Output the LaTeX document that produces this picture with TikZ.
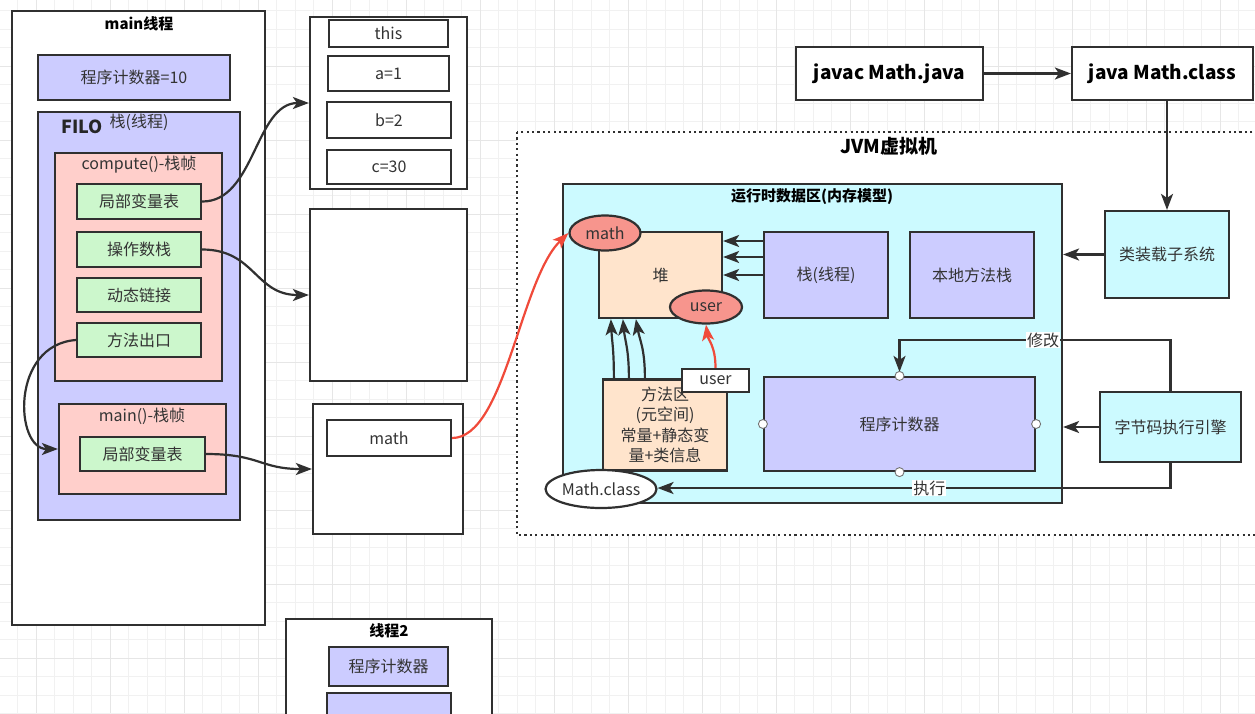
\documentclass[tikz,border=0pt]{standalone}
\usepackage{fontspec}
\setmainfont{Noto Sans CJK SC}
\usetikzlibrary{arrows.meta,shapes.geometric}
\definecolor{edge}{HTML}{303030}
\definecolor{txt}{HTML}{333333}
\definecolor{lav}{HTML}{CCCCFF}
\definecolor{pinkf}{HTML}{FFCFCB}
\definecolor{greenf}{HTML}{CCF7CC}
\definecolor{cyanf}{HTML}{CCFAFF}
\definecolor{peach}{HTML}{FFE4CC}
\definecolor{salmon}{HTML}{F7958D}
\definecolor{redline}{HTML}{F04A3A}
\definecolor{gminor}{HTML}{F1F1F1}
\definecolor{gmajor}{HTML}{E6E6E6}
\begin{document}
\begin{tikzpicture}[x=1pt,y=-1pt,
  box/.style={draw=edge, line width=2.2pt, inner sep=0pt, text=txt, font=\fontsize{16}{20}\selectfont},
  sz/.style 2 args={minimum width=#1pt, minimum height=#2pt},
  ell/.style={ellipse, draw=edge, line width=2.2pt, inner sep=0pt, text=txt, font=\fontsize{16}{20}\selectfont},
  ttl/.style={inner sep=0pt, text=black, font=\bfseries\fontsize{15}{18}\selectfont},
  plain/.style={inner sep=0pt, text=txt, font=\fontsize{16}{20}\selectfont},
  arr/.style={draw=edge, line width=2.2pt, -{Stealth[length=16pt,width=12pt,inset=4pt]}},
  redarr/.style={draw=redline, line width=2.2pt, -{Stealth[length=16pt,width=12pt,inset=4pt]}},
  lab/.style={fill=white, inner sep=1pt, text=txt, font=\fontsize{16}{20}\selectfont},
  dot/.style={circle, draw=black!55, fill=white, line width=0.9pt, minimum size=9pt, inner sep=0pt}
]
\useasboundingbox (0,0) rectangle (1255,713);
\clip (0,0) rectangle (1255,713);
\fill[white] (0,0) rectangle (1255,713);
% grid
\foreach \i in {0,...,68} {
  \draw[gminor, line width=0.8pt] ({-1+18.5*\i},0) -- ({-1+18.5*\i},713);
  \draw[gminor, line width=0.8pt] (0,{-8+18.5*\i}) -- (1255,{-8+18.5*\i});
}
\foreach \i in {0,...,17} {
  \draw[gmajor, line width=0.9pt] ({-38+74*\i},0) -- ({-38+74*\i},713);
  \draw[gmajor, line width=0.9pt] (0,{-8+74*\i}) -- (1255,{-8+74*\i});
}

% ---------- main thread ----------
\node[box, fill=white, sz={253}{614}] (mainth) at (138.5,318) {};
\node[ttl] (mainT) at (139,24) {main线程};
\node[box, fill=lav, sz={192}{45}] (pc10) at (134,77.5) {程序计数器=10};
\node[box, fill=lav, sz={202}{408}] (filo) at (139,316) {};
\node[inner sep=0pt, text=black!85, font=\bfseries\fontsize{18}{20}\selectfont] (filoT) at (82,127) {FILO};
\node[plain] (stackT) at (139,122) {栈(线程)};
\node[box, fill=pinkf, sz={167}{228}] (compf) at (138.5,267) {};
\node[plain] (compT) at (139,165) {compute()-栈帧};
\node[box, fill=greenf, sz={124}{35}] (lv1) at (139,201.5) {局部变量表};
\node[box, fill=greenf, sz={124}{35}] (op) at (139,249.5) {操作数栈};
\node[box, fill=greenf, sz={124}{34}] (dl) at (139,295) {动态链接};
\node[box, fill=greenf, sz={124}{34}] (mo) at (139,340) {方法出口};
\node[box, fill=pinkf, sz={167}{90}] (mainf) at (142.5,449) {};
\node[plain] (mainfT) at (142,416) {main()-栈帧};
\node[box, fill=greenf, sz={125}{34}] (lv2) at (142.5,454) {局部变量表};

% ---------- right column ----------
\node[box, fill=white, sz={157}{172}] (boxA) at (388.5,103) {};
\node[box, fill=white, sz={119}{27}] (vthis) at (388.5,33.5) {this};
\node[box, fill=white, sz={121}{35}] (va) at (388.5,73.5) {a=1};
\node[box, fill=white, sz={124}{36}] (vb) at (389,120) {b=2};
\node[box, fill=white, sz={124}{34}] (vc) at (389,167) {c=30};
\node[box, fill=white, sz={157}{172}] (boxB) at (388.5,295) {};
\node[box, fill=white, sz={150}{130}] (boxC) at (388,469) {};
\node[box, fill=white, sz={124}{36}] (vmath) at (389,438) {math};
\node[box, fill=white, sz={206}{121}] (th2) at (389,679.5) {};
\node[ttl] (th2T) at (389,631) {线程2};
\node[box, fill=lav, sz={119}{39}] (pc2) at (388.5,666.5) {程序计数器};
\node[box, fill=lav, sz={124}{50}] (t2box) at (389,718) {};

% ---------- top-right ----------
\node[box, fill=white, text=black, font=\bfseries\fontsize{19}{22}\selectfont, sz={187}{53}] (javac) at (889.5,73.5) {javac Math.java};
\node[box, fill=white, text=black, font=\bfseries\fontsize{19}{22}\selectfont, sz={181}{53}] (javam) at (1162.5,73.5) {java Math.class};

% ---------- JVM ----------
\draw[fill=white, draw=edge, line width=2.2pt, dash pattern=on 2.2pt off 3.2pt] (517,132) rectangle (1262,535);
\node[inner sep=0pt, text=black, font=\bfseries\fontsize{19}{22}\selectfont] (jvmT) at (889,146) {JVM虚拟机};
\node[box, fill=cyanf, sz={499}{319}] (rt) at (812.5,343.5) {};
\node[ttl] (rtT) at (812,197) {运行时数据区(内存模型)};
\node[box, fill=peach, sz={123}{86}] (heap) at (660.5,275) {堆};
\node[box, fill=lav, sz={124}{86}] (jstack) at (826,275) {栈(线程)};
\node[box, fill=lav, sz={124}{86}] (native) at (972,275) {本地方法栈};
\node[box, fill=lav, sz={271}{94}] (pc) at (899.5,424) {程序计数器};
\node[box, fill=cyanf, sz={124}{87}] (loader) at (1167,254.5) {类装载子系统};
\node[box, fill=cyanf, sz={141}{70}] (engine) at (1170.5,427) {字节码执行引擎};
\node[box, fill=peach, sz={124}{91}, align=center, font=\fontsize{16}{20.5}\selectfont] (ma) at (665,425) {方法区\\(元空间)\\常量+静态变\\量+类信息};
\node[box, fill=white, sz={67}{23}] (ubox) at (715.5,380.5) {user};
\node[ell, fill=salmon, sz={71}{35}] (mathE) at (605,233) {math};
\node[ell, fill=salmon, sz={72}{33}] (userE) at (706,307) {user};
\node[ell, fill=white, sz={108}{38}] (mclass) at (601,489) {Math.class};

% ---------- connectors ----------
\draw[arr] (lv1.east) .. controls (255,202) and (255,103) .. (boxA.west);
\draw[arr] (op.east) .. controls (255,249.5) and (255,295) .. (boxB.west);
\draw[arr] (mo.west) .. controls (10,345) and (15,449) .. (mainf.west);
\draw[arr] (lv2.east) .. controls (260,454) and (260,469) .. (boxC.west);
\draw[redarr] (vmath.east) .. controls (505,438) and (520,280) .. (mathE.west);

\draw[arr] (javac.east) -- (javam.west);
\draw[arr] (loader.north |- javam.south) -- (loader.north);
\draw[arr] (loader.west) -- (rt.east |- loader.west);
\draw[arr] (engine.west) -- (rt.east |- engine.west);

\draw[arr] (jstack.west |- 0,241) -- (heap.east |- 0,241);
\draw[arr] (jstack.west |- 0,257) -- (heap.east |- 0,257);
\draw[arr] (jstack.west |- 0,275) -- (heap.east |- 0,275);

\draw[arr] ([xshift=12pt]ma.north west) .. controls +(0,-30) and +(1,22) .. ([xshift=13pt]heap.south west);
\draw[arr] ([xshift=27pt]ma.north west) .. controls +(0,-30) and +(2,22) .. ([xshift=25pt]heap.south west);
\draw[arr] ([xshift=43pt]ma.north west) .. controls +(0,-30) and +(4,22) .. ([xshift=38pt]heap.south west);
\draw[redarr] (ubox.north) .. controls +(0,-22) and +(2,15) .. (userE.south);

\coordinate (mk) at (1170,340);
\coordinate (ex) at (1170,488);
\draw[arr, shorten >=4pt] (engine.north) -- (engine.north |- mk) -- node[lab, pos=0.47] {修改} (pc.north |- mk) -- (pc.north);
\draw[arr] (engine.south) -- (engine.south |- ex) -- node[lab, pos=0.47] {执行} (mclass.east |- ex);

\foreach \a in {north,south,east,west} \node[dot] at (pc.\a) {};
\end{tikzpicture}
\end{document}
